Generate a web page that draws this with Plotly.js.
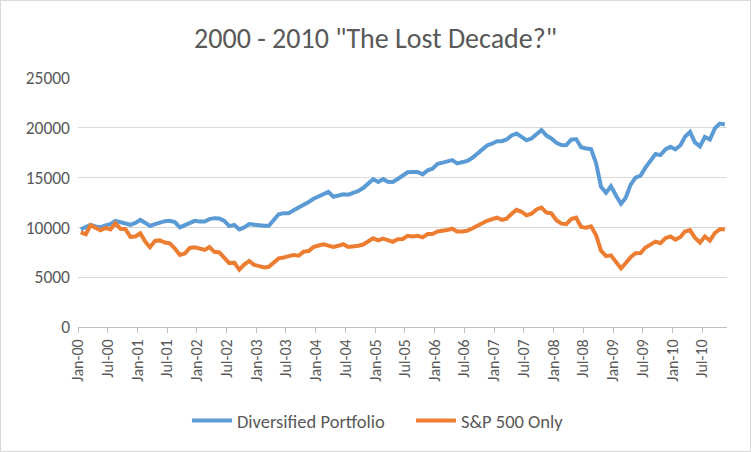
<!DOCTYPE html>
<html>
<head>
<meta charset="utf-8">
<script src="https://cdn.plot.ly/plotly-3.0.1.min.js"></script>
<style>
  html, body { margin: 0; padding: 0; background: #fff; }
  #chart { width: 751px; height: 452px; box-sizing: border-box; border: 1px solid #d9d9d9; }
</style>
</head>
<body>
<div id="chart"></div>
<script>
// Monthly values, Jan-2000 .. Nov-2010 (131 months)
const startYear = 2000;
const monthCount = 131;

const diversified = [
  9800, 10050, 10250, 10100, 10000, 10200, 10330, 10650, 10500, 10430, 10260, 10450,
  10750, 10450, 10150, 10330, 10500, 10630, 10660, 10530, 10000, 10200, 10460, 10660,
  10600, 10600, 10830, 10930, 10900, 10660, 10130, 10240, 9800, 10000, 10330, 10250,
  10200, 10160, 10160, 10700, 11320, 11430, 11430, 11720, 11980, 12300, 12550, 12870,
  13130, 13380, 13560, 13080, 13160, 13320, 13280, 13450, 13650, 13950, 14370, 14830,
  14560, 14860, 14580, 14560, 14860, 15160, 15530, 15560, 15560, 15330, 15730, 15900,
  16380, 16500, 16660, 16760, 16430, 16500, 16660, 16960, 17400, 17830, 18230, 18400,
  18660, 18660, 18830, 19230, 19420, 19080, 18750, 18920, 19350, 19780, 19220, 18930,
  18500, 18260, 18250, 18800, 18870, 18050, 17920, 17870, 16420, 14080, 13470, 14130,
  13200, 12370, 12950, 14300, 15000, 15200, 16000, 16750, 17370, 17260, 17830, 18100,
  17830, 18250, 19100, 19580, 18530, 18130, 19080, 18830, 19960, 20420, 20330
];

const sp500 = [
  9498, 9318, 10229, 9921, 9718, 9958, 9803, 10412, 9862, 9820, 9047, 9091,
  9414, 8555, 8014, 8636, 8694, 8483, 8400, 7874, 7238, 7376, 7942, 8012,
  7895, 7743, 8034, 7547, 7491, 6958, 6415, 6457, 5755, 6262, 6631, 6241,
  6078, 5987, 6045, 6543, 6888, 6976, 7099, 7237, 7160, 7566, 7633, 8033,
  8181, 8295, 8170, 8041, 8151, 8309, 8034, 8066, 8153, 8278, 8613, 8906,
  8689, 8871, 8714, 8549, 8821, 8833, 9162, 9078, 9152, 8999, 9339, 9342,
  9590, 9616, 9735, 9865, 9581, 9594, 9654, 9884, 10139, 10469, 10668, 10817,
  10980, 10765, 10886, 11368, 11765, 11570, 11211, 11379, 11805, 11992, 11491, 11411,
  10726, 10378, 10333, 10836, 10977, 10052, 9968, 10112, 9211, 7665, 7115, 7190,
  6584, 5883, 6398, 7010, 7402, 7417, 7978, 8266, 8574, 8415, 8920, 9092,
  8765, 9036, 9581, 9732, 8955, 8487, 9082, 8672, 9446, 9805, 9804
];

const seriesNames = ["Diversified Portfolio", "S&P 500 Only"];
const yTicks = [0, 5000, 10000, 15000, 20000, 25000];

function pad(n) { return (n < 10 ? "0" : "") + n; }
const dates = [];
for (let i = 0; i < monthCount; i++) {
  const y = startYear + Math.floor(i / 12);
  const m = (i % 12) + 1;
  dates.push(y + "-" + pad(m) + "-18");
}

const font = "Carlito, 'Liberation Sans Narrow', Lato, 'Open Sans', sans-serif";

const traces = [
  { x: dates, y: diversified, name: seriesNames[0], type: "scatter", mode: "lines",
    line: { color: "#5b9bd5", width: 4, shape: "linear" } },
  { x: dates, y: sp500, name: seriesNames[1], type: "scatter", mode: "lines",
    line: { color: "#ed7d31", width: 4, shape: "linear" } }
];

const layout = {
  width: 749, height: 450,
  margin: { l: 77, r: 23, t: 77, b: 123 },
  paper_bgcolor: "#ffffff", plot_bgcolor: "#ffffff",
  font: { family: font, color: "#595959", size: 14 },
  title: { text: '2000 - 2010 "The Lost Decade?"', x: 0.5, xanchor: "center",
           y: 0.918, yanchor: "middle", font: { family: font, size: 28, color: "#595959" } },
  xaxis: {
    type: "date",
    range: ["2000-01-01", "2010-12-01"],
    tick0: "2000-01-01", dtick: "M6", tickformat: "%b-%y",
    tickangle: -90,
    ticks: "outside", ticklen: 5, tickcolor: "#bfbfbf", tickwidth: 1,
    showline: true, linecolor: "#bfbfbf", linewidth: 1,
    showgrid: false, zeroline: false,
    tickfont: { family: font, size: 16, color: "#595959" }
  },
  yaxis: {
    range: [0, 25000], tickvals: yTicks, ticktext: yTicks.map(String),
    showgrid: true, gridcolor: "#d9d9d9", gridwidth: 1,
    showline: false, zeroline: false, ticks: "", ticklabelstandoff: 7,
    tickfont: { family: font, size: 17.5, color: "#595959" }
  },
  showlegend: true,
  legend: { orientation: "h", x: 0.513, xanchor: "center", y: -0.372, yanchor: "middle",
            font: { family: font, size: 18.5, color: "#595959" }, itemwidth: 40,
            entrywidth: 169 },
  hovermode: false
};

Plotly.newPlot("chart", traces, layout, { staticPlot: true, displayModeBar: false });
</script>
</body>
</html>
